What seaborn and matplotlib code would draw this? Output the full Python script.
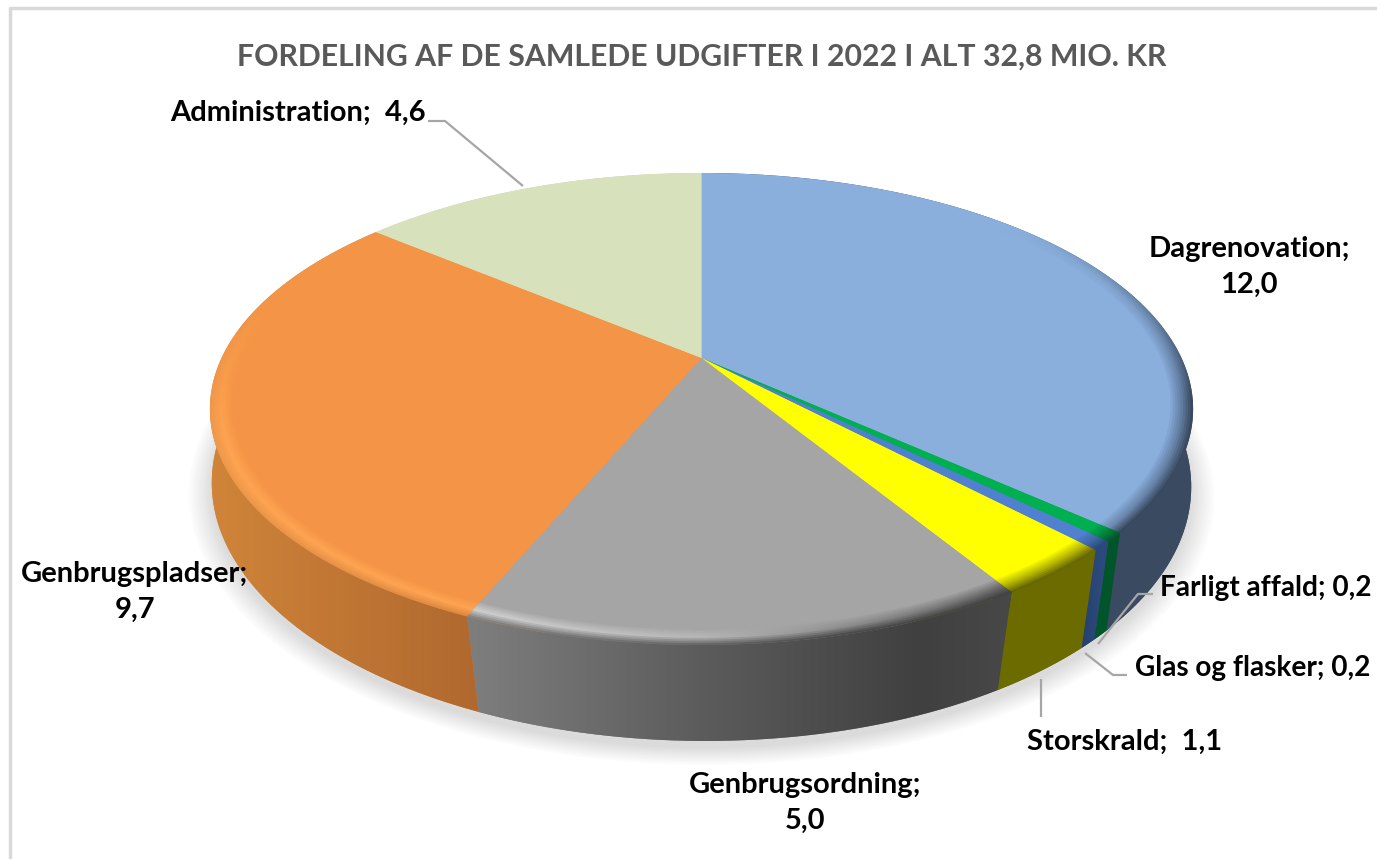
import numpy as np
import matplotlib
matplotlib.use('Agg')
import matplotlib.pyplot as plt
import matplotlib.colors as mcolors
from matplotlib.path import Path
from matplotlib.patches import PathPatch
from matplotlib.transforms import Transform, Affine2D
import seaborn as sns

# data
title = 'FORDELING AF DE SAMLEDE UDGIFTER I 2022 I ALT 32,8 MIO. KR'
categories = ['Dagrenovation', 'Farligt affald', 'Glas og flasker', 'Storskrald',
              'Genbrugsordning', 'Genbrugspladser', 'Administration']
values = [12.0, 0.2, 0.2, 1.1, 5.0, 9.7, 4.6]

# styling
W, H = 1377, 859
face_colors = ['#8aafdd', '#00b050', '#4f81d0', '#ffff00', '#a5a5a5', '#f49446', '#d7e2bc']

# wall shading by pixel column, one list per slice
wall_stops = [
    [(1100, '#3a4a60'), (1200, '#3a4a60')],
    [(1100, '#00552a'), (1120, '#00552a')],
    [(1080, '#253f6c'), (1100, '#2b4a7b')],
    [(1000, '#6b6b00'), (1090, '#6b6b00')],
    [(478, '#7d7d7d'), (700, '#5c5c5c'), (920, '#404040'), (1000, '#474747')],
    [(207, '#d08539'), (478, '#b0682f')],
    [(370, '#c8d0b0'), (701, '#c8d0b0')],
]
# bevel: outer colour against the wall, and the band between it and the face
rim_outer = [
    [(1100, '#3a4a60'), (1200, '#3a4a60')],
    [(1100, '#00602e'), (1120, '#00602e')],
    [(1080, '#2b4a7b'), (1100, '#2b4a7b')],
    [(1000, '#6b6b00'), (1090, '#6b6b00')],
    [(478, '#858585'), (700, '#686868'), (850, '#4c4c4c'), (1000, '#444444')],
    [(207, '#f09a4c'), (478, '#dc8a42')],
    [(370, '#d7e2bc'), (701, '#d7e2bc')],
]
rim_mid = [
    [(1100, '#6f8bb0'), (1200, '#5f7a9e')],
    [(1100, '#008a40'), (1120, '#008a40')],
    [(1080, '#3f68a8'), (1100, '#3f68a8')],
    [(1000, '#b5b500'), (1090, '#b5b500')],
    [(478, '#cfcfcf'), (700, '#b8b8b8'), (850, '#8c8c8c'), (1000, '#6a6a6a')],
    [(207, '#ffa552'), (478, '#ffa552')],
    [(370, '#d7e2bc'), (701, '#d7e2bc')],
]
# rows over which the rim fades in, for slices with no visible rim at the back
rim_fade = [(230, 400), None, None, None, None, (300, 450), None]

# label text position (pixels), alignment handled per label
label_pos = [(1249, 267), (1160, 588), (1135, 668), (1125, 742), (805, 803), (135, 592), (298, 113)]
label_ha = ['center', 'left', 'left', 'center', 'center', 'center', 'center']
label_wrap = [True, False, False, False, True, True, False]
label_gap = ['', ' ', ' ', '  ', '', '', '  ']
label_size = [21, 20.2, 20.2, 21, 21, 21, 21]
leaders = [
    [(428, 121), (445, 121), (523, 186)],
    [(1153, 594), (1138, 594), (1098, 644)],
    [(1127, 675), (1113, 675), (1085, 653)],
    [(1041, 679), (1041, 717)],
]


class DiscProjection(Transform):
    """Perspective view of the flat unit pie, output in image pixels."""
    input_dims = 2
    output_dims = 2
    is_separable = False
    has_inverse = False

    def __init__(self, k, a, b, dy=0.0, tilt=0.0):
        super().__init__()
        self.k, self.a, self.b = k, a, b
        self.x0, self.y0 = 701.5, 358.0
        self.dy, self.tilt = dy, tilt

    def transform_non_affine(self, values):
        u, v = values[:, 0], values[:, 1]
        w = 1 + self.k * v
        dx = self.a * u / w
        y = self.y0 + self.dy - self.b * v / w + self.tilt * dx
        return np.column_stack([self.x0 + dx, y])

    def transform_path_non_affine(self, path):
        # flatten bezier arcs first, a projection does not keep them
        scale = 3000.0
        poly = path.to_polygons(Affine2D().scale(scale), closed_only=False)[0] / scale
        return Path(self.transform_non_affine(poly))


top_view = DiscProjection(0.216, 480.0, 225.0)
bottom_view = DiscProjection(0.165, 483.0, 249.2, dy=84.5, tilt=0.00435)
shadow_view = DiscProjection(0.165, 483.0, 249.2, dy=92.0, tilt=0.00435)


def draw_pie(radius, colors, view, z, visible=True):
    wedges, _ = ax.pie(values, colors=colors, radius=radius, startangle=90, counterclock=False,
                       wedgeprops={'linewidth': 0, 'zorder': z})
    for w in wedges:
        w.set_transform(view + ax.transData)
        w.set_visible(visible)
    return wedges


def column_colors(stops):
    xs = [s[0] for s in stops]
    rgb = np.array([mcolors.to_rgb(s[1]) for s in stops])
    cols = np.arange(W) + 0.5
    return np.column_stack([np.interp(cols, xs, rgb[:, i]) for i in range(3)])


def paint(colors, clip, z):
    if colors.ndim == 2:
        colors = colors[None, :, :]
    im = ax.imshow(colors, extent=(0, W, H, 0), aspect='auto', interpolation='nearest', zorder=z)
    im.set_clip_path(clip)
    return im


sns.set_theme(style='white')
plt.rcParams['font.family'] = ['Lato', 'DejaVu Sans']

fig = plt.figure(figsize=(W / 100, H / 100), dpi=100, facecolor='white')
ax = fig.add_axes([0, 0, 1, 1])
palette = sns.color_palette(face_colors)

# soft shadow under the disc
for i, r in enumerate(np.linspace(1.045, 1.0, 10)):
    level = 1.0 - 0.14 * (i + 1) / 10
    draw_pie(r, [(level, level, level)] * len(values), shadow_view, 1 + i * 0.01)

# bottom disc and side walls
base = draw_pie(1.0, [s[0][1] for s in wall_stops], bottom_view, 2)
for i, w in enumerate(base):
    ang = np.radians(np.linspace(w.theta1, w.theta2, 120))
    arc = np.column_stack([np.cos(ang), np.sin(ang)])
    outline = np.vstack([top_view.transform_non_affine(arc),
                         bottom_view.transform_non_affine(arc)[::-1]])
    wall = PathPatch(Path(outline), transform=ax.transData, visible=False)
    ax.add_patch(wall)
    paint(column_colors(wall_stops[i]), wall, 3)

# bevelled rim, outer ring first, then the flat top
n_rings = 10
inner_r = 0.956
radii = np.linspace(1.0, inner_r, n_rings)
for j, r in enumerate(radii):
    t = j / (n_rings - 1)
    clips = draw_pie(r, palette, top_view, 4 + j * 0.01, visible=False)
    for i, w in enumerate(clips):
        face = np.array(mcolors.to_rgb(face_colors[i]))
        outer = column_colors(rim_outer[i])
        mid = column_colors(rim_mid[i])
        if t < 0.45:
            colors = outer + (mid - outer) * (t / 0.45)
        else:
            colors = mid + (face - mid) * ((t - 0.45) / 0.55)
        if rim_fade[i] is not None:
            weight = np.interp(np.arange(H) + 0.5, rim_fade[i], [0.0, 1.0])[:, None, None]
            colors = face + (colors[None, :, :] - face) * weight
        paint(colors, w, 4 + j * 0.01)
draw_pie(inner_r, palette, top_view, 5)

# leaders and labels
for line in leaders:
    xy = np.array(line)
    ax.plot(xy[:, 0], xy[:, 1], color='#a6a6a6', lw=1.6, zorder=6, solid_capstyle='butt')

for i, name in enumerate(categories):
    num = f'{values[i]:.1f}'.replace('.', ',')
    txt = f'{name};\n{num}' if label_wrap[i] else f'{name};{label_gap[i]}{num}'
    ax.text(label_pos[i][0], label_pos[i][1], txt, ha=label_ha[i], va='center',
            fontsize=label_size[i], fontweight='bold', color='black', linespacing=1.5, zorder=7)

ax.text(702, 57, title, ha='center', va='center', fontsize=21.8, fontweight='bold',
        color='#595959', zorder=7)

# chart frame
ax.plot([10, 10, W], [H, 8, 8], color='#d9d9d9', lw=2.5, zorder=0.5)

ax.set_aspect('auto')
ax.set_xlim(0, W)
ax.set_ylim(H, 0)
ax.axis('off')

plt.savefig('out.png', dpi=100, facecolor='white')
